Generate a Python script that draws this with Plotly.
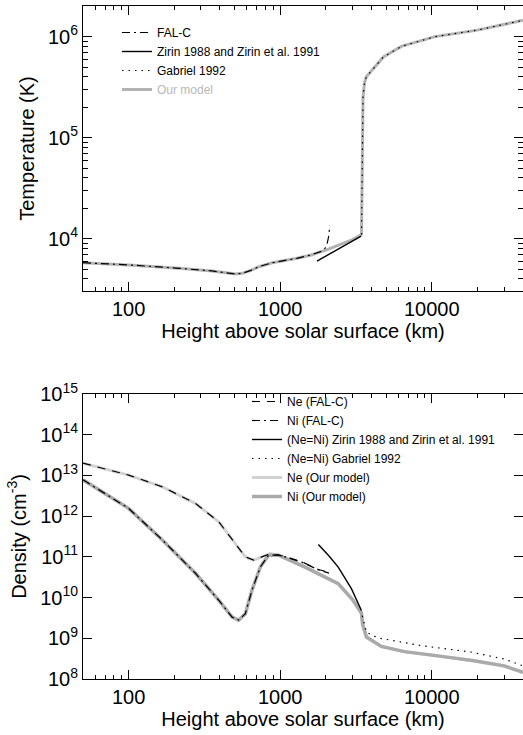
import plotly.graph_objects as go
import numpy as np

# ---------------- Temperature panel data ----------------
h_falc_T = [50, 100, 215, 355, 507, 561, 640, 724, 885, 1000, 1290, 1600, 1870, 1960, 2030, 2080, 2130]
T_falc = [5780, 5500, 5090, 4790, 4470, 4540, 4850, 5280, 5780, 5950, 6390, 6900, 7500, 7900, 8600, 10200, 13400]

h_zirin_T = [1750, 2500, 3420]
T_zirin = [6000, 8150, 10600]

h_gabriel_T = [3440, 3480, 3520, 3600, 3700, 4800, 6300, 10500, 20000, 40000]
T_gabriel = [11000, 100000, 250000, 350000, 400000, 630000, 800000, 1000000, 1160000, 1450000]

h_model_T = [50, 100, 215, 355, 507, 561, 640, 724, 885, 1000, 1290, 1600, 2000, 2500, 3000,
             3440, 3480, 3520, 3600, 3700, 4800, 6300, 10500, 20000, 40000]
T_model = [5780, 5500, 5090, 4790, 4470, 4540, 4850, 5280, 5780, 5950, 6390, 6900, 7700, 8800, 9800,
           11000, 100000, 250000, 350000, 400000, 630000, 800000, 1000000, 1160000, 1450000]

# ---------------- Density panel data ----------------
h_ne_falc = [50, 100, 167, 277, 394, 507, 589, 668, 759, 859, 975, 1080, 1388, 1786, 2025, 2120]
ne_falc = [2.0e13, 1.02e13, 5.25e12, 2.04e12, 7.2e11, 2.14e11, 1.0e11, 8.3e10, 1.0e11, 1.2e11,
           1.1e11, 1.02e11, 7.6e10, 4.9e10, 4.3e10, 3.7e10]

h_ni_falc = [50, 100, 167, 277, 394, 482, 532, 589, 651, 739, 838, 975, 1080, 1388, 1786, 2025, 2100]
ni_falc = [7.8e12, 1.55e12, 2.6e11, 3.9e10, 8.5e9, 3.3e9, 2.8e9, 4.0e9, 1.5e10, 5.6e10, 1.1e11,
           1.1e11, 1.0e11, 7.4e10, 4.8e10, 4.2e10, 4.0e10]

h_zirin_n = [1786, 2100, 2415, 2950, 3435]
n_zirin = [2.0e11, 1.05e11, 5.6e10, 1.66e10, 4.8e9]

h_gabriel_n = [3480, 3706, 4430, 8510, 18100, 30000, 40000]
n_gabriel = [3.6e9, 1.4e9, 1.02e9, 6.6e8, 4.6e8, 3.1e8, 2.1e8]

h_ne_model = [50, 100, 167, 277, 394, 507, 589, 668, 759, 859, 975, 1460, 2415, 3000, 3435,
              3500, 3706, 4650, 6600, 10970, 19000, 30000, 40000]
ne_model = [2.0e13, 1.02e13, 5.25e12, 2.04e12, 7.2e11, 2.14e11, 1.0e11, 8.3e10, 1.0e11, 1.2e11,
            1.1e11, 5.6e10, 2.2e10, 8.9e9, 4.2e9, 2.2e9, 1.07e9, 6.3e8, 4.7e8, 3.7e8, 2.8e8, 2.1e8, 1.45e8]

h_ni_model = [50, 100, 167, 277, 394, 482, 532, 589, 651, 739, 838, 975, 1460, 2415, 3000, 3435,
              3500, 3706, 4650, 6600, 10970, 19000, 30000, 40000]
ni_model = [7.8e12, 1.55e12, 2.6e11, 3.9e10, 8.5e9, 3.3e9, 2.8e9, 4.0e9, 1.5e10, 5.6e10, 1.1e11,
            1.1e11, 5.6e10, 2.2e10, 8.9e9, 4.2e9, 2.2e9, 1.07e9, 6.3e8, 4.7e8, 3.7e8, 2.8e8, 2.1e8, 1.45e8]

# ---------------- Tick labels ----------------
x_tickvals = [100, 1000, 10000]
x_ticktext = ["100", "1000", "10000"]
T_tickvals = [1e4, 1e5, 1e6]
T_ticktext = ["10<sup>4</sup>", "10<sup>5</sup>", "10<sup>6</sup>"]
n_tickvals = [1e8, 1e9, 1e10, 1e11, 1e12, 1e13, 1e14, 1e15]
n_ticktext = ["10<sup>%d</sup>" % k for k in range(8, 16)]

W, H = 523, 735
FONT = "Liberation Sans, Arial, Helvetica, sans-serif"
GRAY = "#b3b3b3"
LIGHT = "#d2d2d2"
DARK_GRAY = "#aaaaaa"

fig = go.Figure()

# ---- top panel ----
fig.add_trace(go.Scatter(x=h_model_T, y=T_model, mode="lines", name="<span style='color:#b8b8b8'>Our model</span>",
                         line=dict(color=GRAY, width=3), legendrank=4, legend="legend",
                         xaxis="x", yaxis="y"))
fig.add_trace(go.Scatter(x=h_falc_T, y=T_falc, mode="lines", name="FAL-C",
                         line=dict(color="black", width=1.2, dash="8px,4px,2px,4px"), legendrank=1,
                         legend="legend", xaxis="x", yaxis="y"))
fig.add_trace(go.Scatter(x=h_zirin_T, y=T_zirin, mode="lines", name="Zirin 1988 and Zirin et al. 1991",
                         line=dict(color="black", width=1.4), legendrank=2, legend="legend",
                         xaxis="x", yaxis="y"))
fig.add_trace(go.Scatter(x=h_gabriel_T, y=T_gabriel, mode="lines", name="Gabriel 1992",
                         line=dict(color="black", width=1.2, dash="1.5px,5px"), legendrank=3,
                         legend="legend", xaxis="x", yaxis="y"))

# ---- bottom panel ----
fig.add_trace(go.Scatter(x=h_ne_model, y=ne_model, mode="lines", name="Ne (Our model)",
                         line=dict(color=LIGHT, width=3), legendrank=5, legend="legend2",
                         xaxis="x2", yaxis="y2"))
fig.add_trace(go.Scatter(x=h_ni_model, y=ni_model, mode="lines", name="Ni (Our model)",
                         line=dict(color=DARK_GRAY, width=3.5), legendrank=6, legend="legend2",
                         xaxis="x2", yaxis="y2"))
fig.add_trace(go.Scatter(x=h_ne_falc, y=ne_falc, mode="lines", name="Ne (FAL-C)",
                         line=dict(color="black", width=1.2, dash="8px,7px"), legendrank=1,
                         legend="legend2", xaxis="x2", yaxis="y2"))
fig.add_trace(go.Scatter(x=h_ni_falc, y=ni_falc, mode="lines", name="Ni (FAL-C)",
                         line=dict(color="black", width=1.2, dash="8px,4px,2px,4px"), legendrank=2,
                         legend="legend2", xaxis="x2", yaxis="y2"))
fig.add_trace(go.Scatter(x=h_zirin_n, y=n_zirin, mode="lines", name="(Ne=Ni) Zirin 1988 and Zirin et al. 1991",
                         line=dict(color="black", width=1.4), legendrank=3, legend="legend2",
                         xaxis="x2", yaxis="y2"))
fig.add_trace(go.Scatter(x=h_gabriel_n, y=n_gabriel, mode="lines", name="(Ne=Ni) Gabriel 1992",
                         line=dict(color="black", width=1.2, dash="1.5px,5px"), legendrank=4,
                         legend="legend2", xaxis="x2", yaxis="y2"))

L = 83
plot_w = W - L


def px_to_py(ypx):
    return 1 - ypx / H


top_dom = [px_to_py(291), px_to_py(6)]
bot_dom = [px_to_py(679), px_to_py(394)]

minor_x = [m * 10 ** e for e in range(1, 5) for m in range(2, 10) if 50 <= m * 10 ** e <= 40000]
minor_T = [m * 10 ** e for e in range(3, 7) for m in range(2, 10) if 3000 <= m * 10 ** e <= 2e6]

axis_common = dict(showline=True, linecolor="black", linewidth=1, mirror="ticks", ticks="inside",
                   tickcolor="black", tickwidth=1, showgrid=False, zeroline=False, automargin=False,
                   tickfont=dict(family=FONT, size=20, color="black"))

xcommon = dict(type="log", range=[np.log10(50), np.log10(40000)], domain=[0, 1],
               tickvals=x_tickvals, ticktext=x_ticktext, ticklen=9,
               minor=dict(tickvals=minor_x, ticks="inside", ticklen=4, tickcolor="black", showgrid=False),
               title=dict(text="Height above solar surface (km)", font=dict(family=FONT, size=20, color="black"),
                          standoff=4),
               **axis_common)

fig.update_layout(
    width=W, height=H,
    margin=dict(l=L, r=0, t=0, b=0),
    paper_bgcolor="white", plot_bgcolor="white",
    font=dict(family=FONT, color="black"),
    xaxis=dict(anchor="y", **xcommon),
    yaxis=dict(type="log", domain=top_dom, anchor="x",
               range=[np.log10(3034), np.log10(2.01e6)],
               tickvals=T_tickvals, ticktext=T_ticktext, ticklen=9,
               minor=dict(tickvals=minor_T, ticks="inside", ticklen=5, tickcolor="black", showgrid=False),
               title=dict(text="Temperature (K)", font=dict(family=FONT, size=20, color="black"), standoff=7),
               **axis_common),
    xaxis2=dict(anchor="y2", **xcommon),
    yaxis2=dict(type="log", domain=bot_dom, anchor="x2", range=[8, 15],
                tickvals=n_tickvals, ticktext=n_ticktext, ticklen=9,
                title=dict(text="Density (cm<sup>-3</sup>)", font=dict(family=FONT, size=20, color="black"),
                           standoff=8),
                **axis_common),
    legend=dict(x=(117 - L) / plot_w, y=px_to_py(18), xanchor="left", yanchor="top",
                bgcolor="rgba(0,0,0,0)", borderwidth=0,
                font=dict(family=FONT, size=12, color="black"), traceorder="normal"),
    legend2=dict(x=(247 - L) / plot_w, y=px_to_py(387), xanchor="left", yanchor="top",
                 bgcolor="rgba(0,0,0,0)", borderwidth=0,
                 font=dict(family=FONT, size=12, color="black"), traceorder="normal"),
    showlegend=True,
)

fig.write_html("out.html", config={"displayModeBar": False},
               post_script="document.body.style.margin='0';document.body.style.overflow='hidden';")
